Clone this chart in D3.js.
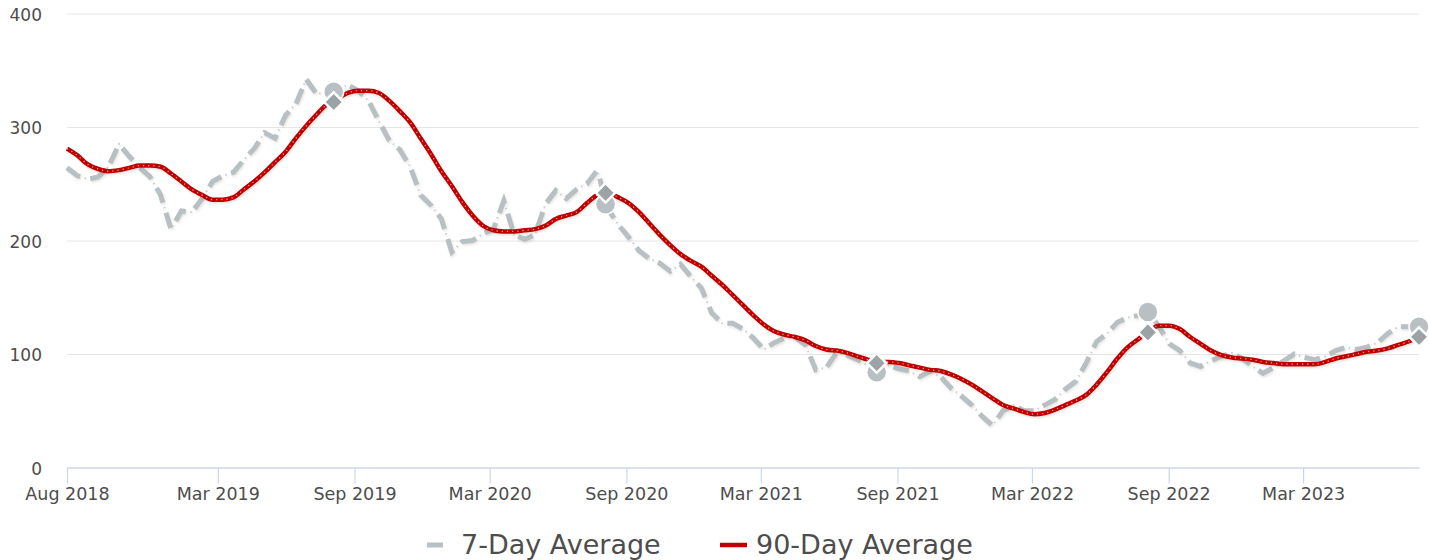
<!DOCTYPE html>
<html>
<head>
<meta charset="utf-8">
<script src="https://cdn.jsdelivr.net/npm/d3@7"></script>
<style>
  body { margin: 0; background: #fff; }
  svg text { font-family: "DejaVu Sans", sans-serif; fill: #4d4d4d; }
</style>
</head>
<body>
<svg id="chart" width="1429" height="560"></svg>
<script>
// two-week sampling, first point 10 Aug 2018
const startDate = new Date(2018, 7, 10);
const stepDays = 14;

const avg7 = [264, 257, 254, 256, 265, 285, 274, 264, 256, 240,
  210, 226, 225, 237, 252, 257, 260, 271, 281, 295,
  290, 310, 320, 342, 329, 331, 333, 337, 332, 323,
  305, 288, 280, 265, 240, 231, 219, 190, 199, 200,
  206, 210, 235, 205, 201, 205, 232, 244, 237, 245,
  250, 262, 228, 214, 203, 191, 184, 180, 173, 179,
  168, 158, 136, 127, 127, 122, 114, 104, 110, 114,
  115, 108, 86, 88, 101, 99, 95, 90, 85, 90,
  87, 85, 80, 85, 80, 70, 63, 55, 45, 37,
  50, 55, 50, 50, 55, 60, 69, 76, 92, 111,
  118, 128, 132, 134, 137, 124, 109, 103, 92, 89,
  94, 98, 101, 96, 89, 83, 88, 94, 100, 97,
  95, 98, 103, 106, 104, 106, 110, 118, 124, 124, 124];

const avg90 = [281, 275, 267, 263, 261, 262, 264, 266, 266, 265,
  259, 252, 245, 240, 236, 236, 238, 245, 252, 260,
  269, 278, 290, 301, 311, 320, 325, 330, 332, 332,
  330, 323, 314, 304, 290, 276, 261, 248, 234, 222,
  213, 209, 208, 208, 209, 210, 213, 219, 222, 225,
  233, 240, 242, 238, 233, 225, 215, 205, 196, 188,
  182, 177, 169, 161, 152, 143, 134, 126, 120, 117,
  115, 112, 107, 104, 103, 101, 98, 95, 93, 93,
  92, 90, 88, 86, 85, 82, 78, 73, 67, 61,
  55, 52, 49, 47, 48, 51, 55, 59, 64, 73,
  84, 96, 106, 113, 120, 125, 125, 122, 115, 109,
  103, 99, 97, 96, 95, 93, 92, 91, 91, 91,
  91, 93, 96, 98, 100, 102, 103, 105, 108, 111, 115];

// same-day points, one year apart
const markDates = ["2019-08-04", "2020-08-04", "2021-08-04", "2022-08-04", "2023-08-04"];
const mark7 = [331, 232, 84, 137, 124];
const mark90 = [322, 242, 92, 119, 115];

const tickDates = ["2018-08-10", "2019-03-01", "2019-09-01", "2020-03-01", "2020-09-01",
  "2021-03-01", "2021-09-01", "2022-03-01", "2022-09-01", "2023-03-01"];
const tickLabels = ["Aug 2018", "Mar 2019", "Sep 2019", "Mar 2020", "Sep 2020",
  "Mar 2021", "Sep 2021", "Mar 2022", "Sep 2022", "Mar 2023"];
const yTicks = [0, 100, 200, 300, 400];

const seriesNames = ["7-Day Average", "90-Day Average"];

const parse = d3.timeParse("%Y-%m-%d");
const dates = avg7.map((_, i) => d3.timeDay.offset(startDate, i * stepDays));

const svg = d3.select("#chart");
const mLeft = 67, mRight = 1419, mTop = 13.5, mBottom = 467.5;

const x = d3.scaleTime()
  .domain([startDate, dates[dates.length - 1]])
  .range([mLeft, mRight]);
const y = d3.scaleLinear().domain([0, 400]).range([mBottom, mTop]);

const defs = svg.append("defs");
const f = defs.append("filter").attr("id", "shadow")
  .attr("x", "-5%").attr("y", "-5%").attr("width", "110%").attr("height", "120%");
f.append("feDropShadow").attr("dx", 1).attr("dy", 1.5).attr("stdDeviation", 1)
  .attr("flood-color", "#6b5a3a").attr("flood-opacity", 0.18);

// grid
const yAxis = d3.axisLeft(y).tickValues(yTicks).tickSize(-(mRight - mLeft));
const gy = svg.append("g").attr("transform", `translate(${mLeft},0)`).call(yAxis);
gy.select(".domain").remove();
gy.selectAll(".tick line").attr("stroke", "#e6e6e6").attr("stroke-width", 1)
  .filter(d => d === 0).remove();
gy.selectAll(".tick text").attr("font-size", 17).attr("text-anchor", "end")
  .attr("x", -(mLeft - 42)).attr("dy", "0.4em");

// x axis
const xAxis = d3.axisBottom(x)
  .tickValues(tickDates.map(parse))
  .tickFormat((d, i) => tickLabels[i])
  .tickSize(16).tickSizeOuter(0);
const gx = svg.append("g").attr("transform", `translate(0,${mBottom})`).call(xAxis);
gx.select(".domain").attr("stroke", "#ccd6eb").attr("stroke-width", 1.5);
gx.selectAll(".tick line").attr("stroke", "#ccd6eb").attr("stroke-width", 1.2);
gx.selectAll(".tick text").attr("font-size", 17.5).attr("y", 20);

const line = d3.line().x((d, i) => x(dates[i])).y(d => y(d));

// 7-day: long dash with a small dot in the gap
const g7 = svg.append("g").attr("filter", "url(#shadow)");
g7.append("path").datum(avg7).attr("d", line)
  .attr("fill", "none").attr("stroke", "#b8c0c3").attr("stroke-width", 5)
  .attr("stroke-dasharray", "16,10.5");
g7.append("path").datum(avg7).attr("d", line)
  .attr("fill", "none").attr("stroke", "#c9cfd1").attr("stroke-width", 2)
  .attr("stroke-dasharray", "1.5,25").attr("stroke-dashoffset", -20.5);

// 90-day: solid red with a fine light dotted core
const smooth = d3.line().x((d, i) => x(dates[i])).y(d => y(d)).curve(d3.curveMonotoneX);
const g90 = svg.append("g").attr("filter", "url(#shadow)");
g90.append("path").datum(avg90).attr("d", smooth)
  .attr("fill", "none").attr("stroke", "#c00000").attr("stroke-width", 4.5)
  .attr("stroke-linejoin", "round");
g90.append("path").datum(avg90).attr("d", smooth)
  .attr("fill", "none").attr("stroke", "#f2a5a5").attr("stroke-width", 1.2)
  .attr("stroke-dasharray", "1.2,4");

// year-ago markers
svg.append("g").selectAll("circle").data(mark7).join("circle")
  .attr("cx", (d, i) => x(parse(markDates[i])))
  .attr("cy", d => y(d))
  .attr("r", 10)
  .attr("fill", "#b8c0c3").attr("stroke", "#fff").attr("stroke-width", 1.5);

svg.append("g").selectAll("path").data(mark90).join("path")
  .attr("transform", (d, i) => `translate(${x(parse(markDates[i]))},${y(d)})`)
  .attr("d", d3.symbol(d3.symbolDiamond2, 240))
  .attr("fill", "#9ba3a6").attr("stroke", "#fff").attr("stroke-width", 2.5);

// legend
const legend = svg.append("g").attr("transform", "translate(0,545)");
const item1 = legend.append("g");
item1.append("line").attr("x1", 427).attr("x2", 443).attr("y1", 0).attr("y2", 0)
  .attr("stroke", "#b8c0c3").attr("stroke-width", 5);
item1.append("text").attr("x", 461).attr("y", 9).attr("font-size", 27).text(seriesNames[0]);
const item2 = legend.append("g");
item2.append("line").attr("x1", 720).attr("x2", 747).attr("y1", 0).attr("y2", 0)
  .attr("stroke", "#c00000").attr("stroke-width", 4.5);
item2.append("text").attr("x", 756).attr("y", 9).attr("font-size", 27).text(seriesNames[1]);
</script>
</body>
</html>
